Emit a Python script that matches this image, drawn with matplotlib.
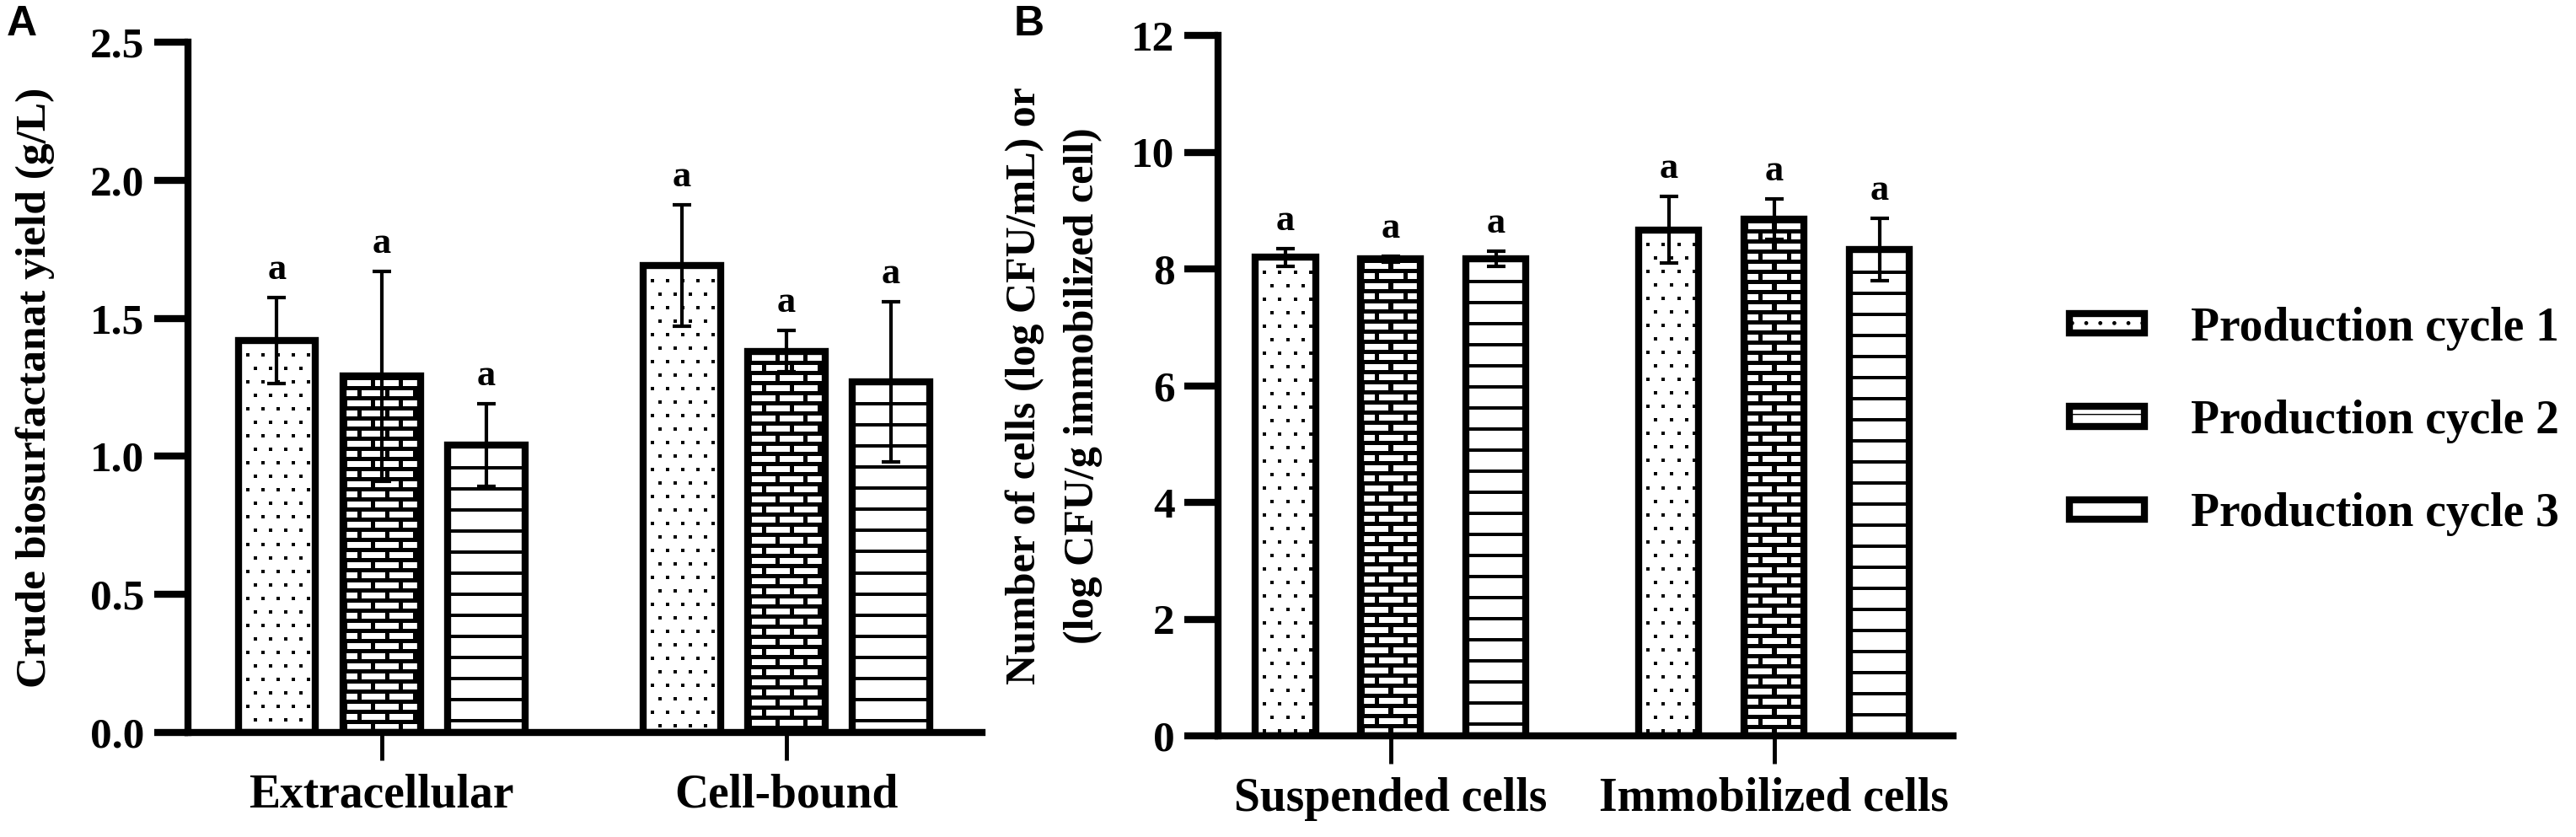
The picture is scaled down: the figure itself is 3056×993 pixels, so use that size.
import numpy as np
import matplotlib
matplotlib.use('Agg')
import matplotlib.pyplot as plt
from matplotlib.patches import Rectangle

plt.rcParams['font.family'] = 'Liberation Serif'
plt.rcParams['font.weight'] = 'bold'
plt.rcParams['axes.labelweight'] = 'bold'

# data
cycles = ['Production cycle 1', 'Production cycle 2', 'Production cycle 3']
patterns = ['dots', 'bricks', 'lines']

# panel A: crude biosurfactant yield (g/L), one list per production cycle
fractions = ['Extracellular', 'Cell-bound']
yield_mean = [[1.42, 1.69], [1.29, 1.38], [1.04, 1.27]]
yield_sd = [[0.155, 0.22], [0.38, 0.075], [0.15, 0.29]]
yield_ticks = [0.0, 0.5, 1.0, 1.5, 2.0, 2.5]

# panel B: number of cells (log CFU), one list per production cycle
cell_types = ['Suspended cells', 'Immobilized cells']
cells_mean = [[8.2, 8.67], [8.17, 8.85], [8.17, 8.33]]
cells_sd = [[0.15, 0.57], [0.05, 0.35], [0.13, 0.53]]
cells_ticks = [0, 2, 4, 6, 8, 10, 12]

letters = [['a', 'a'], ['a', 'a'], ['a', 'a']]


def texture(kind, w, h):
    # black/white fill pattern, in screen pixels
    yy, xx = np.mgrid[0:h, 0:w]
    if kind == 'dots':
        row = yy // 16
        black = ((yy % 16) < 4) & (((xx + 9 * (row % 2)) % 18) < 4)
    elif kind == 'bricks':
        row = yy // 12
        black = ((yy % 12) < 5) | (((xx + 16 * (row % 2)) % 33) < 5)
    else:
        black = (yy % 25) < 4
    img = np.ones((h, w))
    img[black] = 0
    return img


def fill_bar(ax, bar, kind):
    x0, y0 = bar.get_x(), bar.get_y()
    x1, y1 = x0 + bar.get_width(), y0 + bar.get_height()
    (px0, py0), (px1, py1) = ax.transData.transform([(x0, y0), (x1, y1)])
    img = texture(kind, max(int(round(px1 - px0)), 1), max(int(round(py1 - py0)), 1))
    im = ax.imshow(img, cmap='gray', vmin=0, vmax=1, extent=(x0, x1, y0, y1),
                   interpolation='nearest', aspect='auto', zorder=1)
    im.set_clip_path(bar)


def draw_panel(ax, groups, means, sds, gap, width, xlim, ylim, ticks, fmt):
    ax.set_xlim(xlim)
    ax.set_ylim(ylim)
    centers = np.arange(len(groups)) * gap
    for i in range(3):
        xs = centers + (i - 1)
        bars = ax.bar(xs, means[i], width, facecolor='none', edgecolor='black',
                      linewidth=6, zorder=2)
        for bar in bars:
            fill_bar(ax, bar, patterns[i])
        ax.errorbar(xs, means[i], yerr=sds[i], fmt='none', ecolor='black',
                    elinewidth=3, capsize=8, capthick=3, zorder=3)
        for x, m, s, t in zip(xs, means[i], sds[i], letters[i]):
            ax.annotate(t, (x, m + s), xytext=(0, 16), textcoords='offset points',
                        ha='center', va='baseline', fontsize=32)
    ax.set_xticks(centers, groups)
    ax.set_yticks(ticks, [fmt.format(t) for t in ticks])
    for side in ['top', 'right']:
        ax.spines[side].set_visible(False)
    for side in ['left', 'bottom']:
        ax.spines[side].set_linewidth(6)
    ax.tick_params(axis='x', length=24, width=3.5, pad=11, labelsize=40)
    ax.tick_params(axis='y', length=29, width=6, pad=8, labelsize=37)


fig = plt.figure(figsize=(30.56, 9.93), dpi=100)
W, H = 3056, 993

axA = fig.add_axes([223 / W, (H - 869) / H, (1165 - 223) / W, (869 - 50) / H])
draw_panel(axA, fractions, yield_mean, yield_sd, 3.87, 0.74, (-1.85, 5.74), (0, 2.5),
           yield_ticks, '{:.1f}')
axA.set_ylabel('Crude biosurfactanat yield (g/L)', fontsize=37)
axA.yaxis.set_label_coords(-0.168, 0.5)

axB = fig.add_axes([1445 / W, (H - 873) / H, (2317 - 1445) / W, (873 - 42) / H])
draw_panel(axB, cell_types, cells_mean, cells_sd, 3.64, 0.57, (-1.64, 5.34), (0, 12),
           cells_ticks, '{:d}')
axB.set_ylabel('Number of cells (log CFU/mL) or\n(log CFU/g immobilized cell)',
               fontsize=36, linespacing=1.65)
axB.yaxis.set_label_coords(-0.157, 0.5)

fig.text(8 / W, 1 - 6 / H, 'A', family='Liberation Sans', weight='bold',
         fontsize=36, va='top')
fig.text(1203 / W, 1 - 6 / H, 'B', family='Liberation Sans', weight='bold',
         fontsize=36, va='top')

hatches = ['.', '-', None]
handles = [Rectangle((0, 0), 1, 1, facecolor='white', edgecolor='black', linewidth=6,
                     hatch=h) for h in hatches]
fig.legend(handles, cycles, loc='center left', bbox_to_anchor=(2455 / W, 1 - 500 / H),
           frameon=False, fontsize=40, handlelength=1.6, handleheight=0.27,
           handletextpad=1.0, labelspacing=1.05, borderpad=0, borderaxespad=0)

fig.savefig('out.png', dpi=100)
